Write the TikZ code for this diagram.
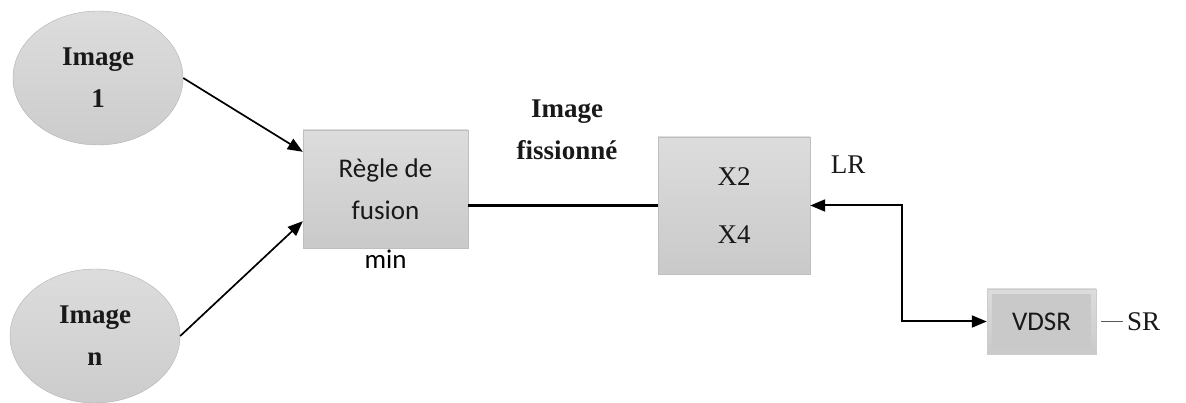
\documentclass[tikz,border=0pt]{standalone}
\usepackage{fontspec}
\setmainfont{Liberation Serif}
\newfontfamily\calibri{Carlito}
\usetikzlibrary{shapes, arrows.meta, positioning}
\newcommand{\diagfont}{\fontsize{27}{42}\selectfont}

\begin{document}
\begin{tikzpicture}[x=1pt, y=-1pt,
        source/.style={ellipse, draw=gray!60, top color=gray!27, bottom color=gray!40, minimum width=170pt, minimum height=134pt, align=center, font=\diagfont\bfseries, text=black!90},
        block/.style={draw=gray!50, top color=gray!27, bottom color=gray!42, align=center, inner sep=0pt, text=black!90},
        link/.style={line width=1.7pt, -{Triangle[length=15pt,width=12pt]}}
    ]
        \useasboundingbox (0,0) rectangle (1186,403);

        % Input images
        \node[source] (img1) at (98,78) {Image\\1};
        \node[source] (imgn) at (95,336) {Image\\n};

        % Fusion rule
        \node[block, minimum width=165pt, minimum height=118pt, font=\diagfont\calibri] (fusion) at (385.5,189) {Règle de\\fusion};
        \node[font=\diagfont\calibri, below=-2pt of fusion] (minlbl) {min};

        % Upscaling
        \node[block, minimum width=152pt, minimum height=137pt, font=\diagfont] (xbox) at (734,205.5) {X2\\[16pt]X4};
        \node[font=\diagfont, text=black!90] (lr) at (848,165) {LR};
        \node[font=\diagfont\bfseries, text=black!90, align=center] (fiss) at (567,130) {Image\\fissionné};

        % Super resolution
        \node[block, draw=gray!40, fill=gray!30, minimum width=109pt, minimum height=65pt, font=\diagfont\calibri,
            path picture={\fill[gray!42] ([shift={(5pt,-5pt)}]path picture bounding box.north west) rectangle ([shift={(-5pt,5pt)}]path picture bounding box.south east);}] (vdsr) at (1041.5,321.5) {VDSR};
        \node[font=\diagfont, text=black!90, inner sep=4pt, anchor=west] (sr) at (1123,321.5) {SR};

        % Connectors
        \draw[link] (img1.east) -- ([yshift=-22pt]fusion.north west);
        \draw[link] (imgn.east) -- ([yshift=27pt]fusion.south west);
        \draw[line width=2.6pt] (fusion.east |- xbox.west) -- (xbox.west);
        \draw[line width=2pt, {Triangle[length=15pt,width=12pt]}-{Triangle[length=15pt,width=12pt]}] (xbox.east) -- ++(92pt,0) |- (vdsr.west);
        \draw[line width=1.2pt, gray!70!black] ([xshift=5pt]vdsr.east) -- (sr.west);
    \end{tikzpicture}
\end{document}
